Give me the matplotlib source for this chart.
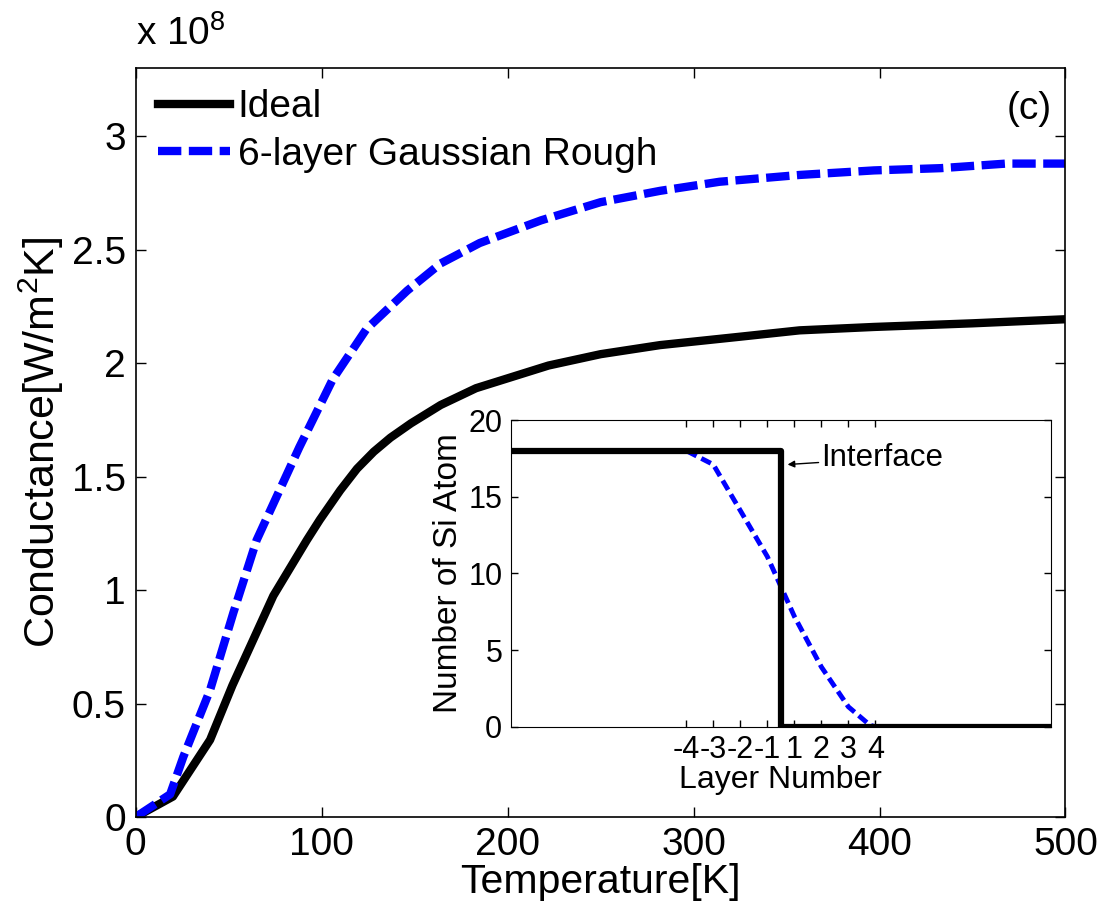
import numpy as np
import matplotlib
matplotlib.use("Agg")
from matplotlib import pyplot as plt

plt.rcParams['font.family'] = ['Liberation Sans', 'DejaVu Sans']
plt.rcParams['mathtext.fontset'] = 'custom'
plt.rcParams['mathtext.rm'] = 'Liberation Sans'

# main panel: conductance (units of 1e8 W/m^2K) vs temperature
temp_ideal = [0, 20, 40, 52, 74, 92, 99, 110, 119, 128, 137, 148, 164, 183, 222, 250,
              282, 325, 357, 397, 450, 500]
cond_ideal = [0, 0.09, 0.34, 0.58, 0.975, 1.22, 1.31, 1.44, 1.535, 1.61, 1.672,
              1.735, 1.816, 1.89, 1.99, 2.04, 2.08, 2.117, 2.145, 2.16, 2.176, 2.194]
temp_rough = [0, 18.5, 25.6, 40, 52.5, 65, 88, 106, 124, 146, 164, 178, 185, 218, 250, 282, 314,
              357, 397, 433, 468, 500]
cond_rough = [0, 0.10, 0.265, 0.56, 0.90, 1.22, 1.63, 1.93, 2.15, 2.32, 2.44, 2.50, 2.53, 2.63,
              2.71, 2.76, 2.80, 2.83, 2.85, 2.86, 2.88, 2.88]

# inset: Si atoms per layer (interface at 0)
layer_ideal = [-10, 0, 0, 10]
atoms_ideal = [18, 18, 0, 0]
layer_rough = [-10, -3.5, -2.5, -1.5, -0.5, 0.5, 1.5, 2.5, 3.3, 3.5, 10]
atoms_rough = [18, 18, 17.1, 14.1, 11.1, 7.2, 3.9, 1.3, 0.1, 0, 0]
layer_ticks = [-3.5, -2.5, -1.5, -0.5, 0.5, 1.5, 2.5, 3.5]
layer_labels = ['-4', '-3', '-2', '-1', '1', '2', '3', '4']

fig = plt.figure(figsize=(11.07, 9.22), dpi=100)
ax = fig.add_axes([0.1226, 0.1139, 0.8399, 0.812])
ax.plot(temp_ideal, cond_ideal, color='k', lw=6, label='Ideal')
ax.plot(temp_rough, cond_rough, color='#0000ff', lw=6, dashes=(2.8, 0.9),
        dash_capstyle='butt', label='6-layer Gaussian Rough')
ax.set_xlim(0, 500)
ax.set_ylim(0, 3.3)
ax.set_xticks([0, 100, 200, 300, 400, 500])
ax.set_yticks([0, 0.5, 1, 1.5, 2, 2.5, 3])
ax.set_yticklabels(['0', '0.5', '1', '1.5', '2', '2.5', '3'])
ax.tick_params(direction='in', length=7, width=1, top=True, right=True,
               labelsize=28, pad=7)
for s in ax.spines.values():
    s.set_linewidth(1.2)
ax.set_xlabel('Temperature[K]', fontsize=29.5, labelpad=0)
ax.set_ylabel('Conductance[W/m$^2$K]', fontsize=31, labelpad=4)
ax.text(0.0, 1.02, 'x 10$^8$', transform=ax.transAxes, fontsize=28,
        ha='left', va='bottom')
ax.text(0.985, 0.97, '(c)', transform=ax.transAxes, fontsize=28,
        ha='right', va='top')
ax.legend(loc='upper left', bbox_to_anchor=(0.007, 0.993), frameon=False,
          fontsize=28, handlelength=1.85, handletextpad=0.2, labelspacing=0.3,
          borderaxespad=0)

ins = fig.add_axes([0.4613, 0.2118, 0.4881, 0.3326])
ins.plot(layer_rough, atoms_rough, color='#0000ff', lw=3.5, dashes=(2.2, 1.1),
         dash_capstyle='butt')
ins.plot(layer_ideal, atoms_ideal, color='k', lw=4.5)
ins.set_xlim(-10, 10)
ins.set_ylim(0, 20)
ins.set_xticks(layer_ticks)
ins.set_xticklabels(layer_labels)
ins.set_yticks([0, 5, 10, 15, 20])
ins.tick_params(direction='in', length=5, width=1, top=True, right=True,
                labelsize=22, pad=6)
ins.set_xlabel('Layer Number', fontsize=23, labelpad=0)
ins.set_ylabel('Number of Si Atom', fontsize=24, labelpad=3)
ins.annotate('Interface', xy=(0.25, 17.1), xytext=(1.5, 17.5), fontsize=22.5,
             va='center', ha='left',
             arrowprops=dict(arrowstyle='-|>', color='k', lw=1,
                             mutation_scale=10, shrinkA=0, shrinkB=0))

fig.savefig('out.png', dpi=100)
